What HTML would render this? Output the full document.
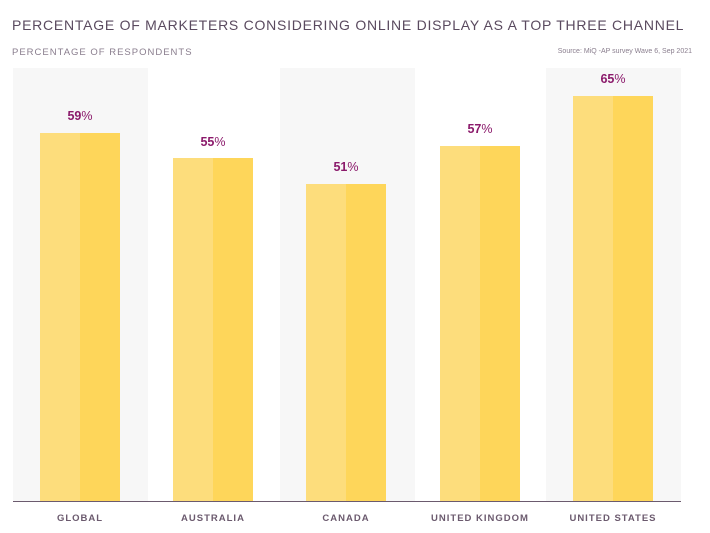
<!DOCTYPE html><html><head><style>
body{margin:0;width:710px;height:533px;background:#fff;position:relative;font-family:"Liberation Sans",sans-serif;overflow:hidden}
.a{position:absolute}
.g{background:#f7f7f7;top:68px;height:434px;width:135px}
.b{width:40px;background:#fddd7c}
.c{width:40px;background:#fed65a}
.v{width:80px;text-align:center;font-size:12.5px;font-weight:bold;color:#8b1a6b}
.v span{font-weight:normal}
.l{width:140px;text-align:center;font-size:9.5px;font-weight:bold;color:#6b5a6e;letter-spacing:1px;top:513px}
</style></head><body>
<div class="a" style="left:12px;top:17px;font-size:14px;color:#5a4a5f;letter-spacing:0.75px;white-space:nowrap">PERCENTAGE OF MARKETERS CONSIDERING ONLINE DISPLAY AS A TOP THREE CHANNEL</div>
<div class="a" style="left:12px;top:47px;font-size:9.5px;color:#8a7e8e;letter-spacing:1px">PERCENTAGE OF RESPONDENTS</div>
<div class="a" style="right:18px;top:48px;font-size:7px;color:#8a7e8e;white-space:nowrap">Source: MiQ -AP survey Wave 6, Sep 2021</div>
<div class="a g" style="left:13px"></div>
<div class="a g" style="left:280px"></div>
<div class="a g" style="left:546px"></div>
<div class="a b" style="left:40px;top:133px;height:369px"></div><div class="a c" style="left:80px;top:133px;height:369px"></div>
<div class="a b" style="left:173px;top:158px;height:344px"></div><div class="a c" style="left:213px;top:158px;height:344px"></div>
<div class="a b" style="left:306px;top:184px;height:318px"></div><div class="a c" style="left:346px;top:184px;height:318px"></div>
<div class="a b" style="left:440px;top:146px;height:356px"></div><div class="a c" style="left:480px;top:146px;height:356px"></div>
<div class="a b" style="left:573px;top:96px;height:406px"></div><div class="a c" style="left:613px;top:96px;height:406px"></div>
<div class="a v" style="left:40px;top:109px">59<span>%</span></div>
<div class="a v" style="left:173px;top:135px">55<span>%</span></div>
<div class="a v" style="left:306px;top:160px">51<span>%</span></div>
<div class="a v" style="left:440px;top:122px">57<span>%</span></div>
<div class="a v" style="left:573px;top:72px">65<span>%</span></div>
<div class="a" style="left:13px;top:501px;width:668px;height:1px;background:#6b5a6e"></div>
<div class="a l" style="left:10px">GLOBAL</div>
<div class="a l" style="left:143px">AUSTRALIA</div>
<div class="a l" style="left:276px">CANADA</div>
<div class="a l" style="left:410px">UNITED KINGDOM</div>
<div class="a l" style="left:543px">UNITED STATES</div>
</body></html>
